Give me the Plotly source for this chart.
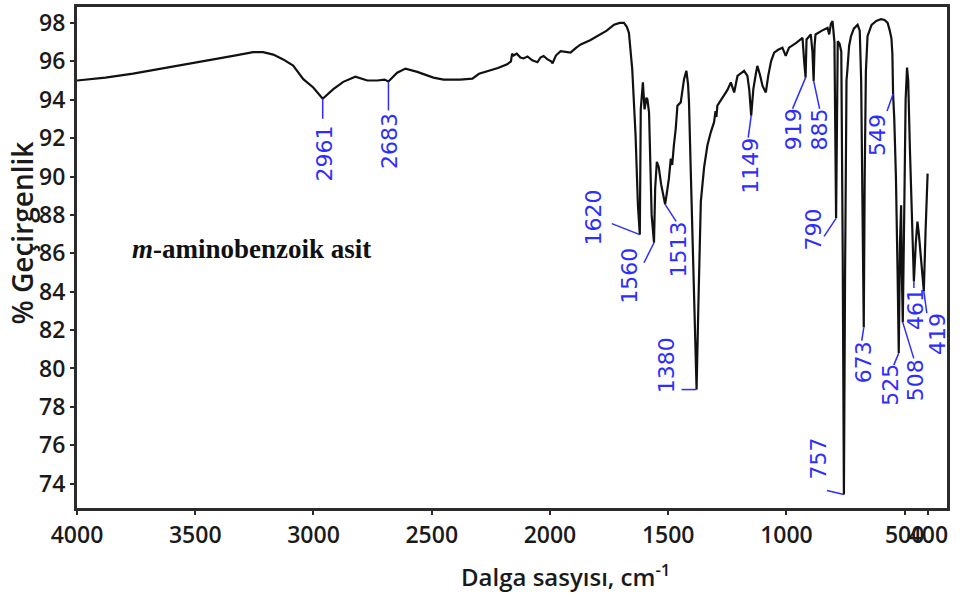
import numpy as np
import plotly.graph_objects as go

# ---------------- data ----------------
wavenumber = [
    4000, 3880, 3763, 3650, 3551, 3440, 3340, 3255, 3213, 3170, 3128, 3086, 3043, 3001,
    2961, 2916, 2874, 2823, 2772, 2730, 2700, 2683, 2665, 2646, 2611, 2561, 2493, 2450,
    2380, 2328, 2300, 2260, 2220, 2181, 2165, 2160, 2154, 2140, 2125, 2112, 2095, 2075,
    2053, 2040, 2027, 2010, 1995, 1989, 1975, 1955, 1930, 1913, 1890, 1870, 1830, 1786,
    1760, 1729, 1705, 1687, 1675, 1666, 1652, 1638, 1628, 1620, 1616, 1607, 1600, 1592,
    1588, 1581, 1570, 1560, 1555, 1548, 1540, 1530, 1520, 1513, 1505, 1497, 1489, 1483,
    1476, 1468, 1461, 1447, 1433, 1423, 1416, 1412, 1405, 1398, 1390, 1380, 1372, 1362,
    1348, 1334, 1320, 1306, 1300, 1296, 1292, 1264, 1250, 1235, 1221, 1207, 1190, 1179,
    1165, 1157, 1149, 1140, 1130, 1123, 1112, 1101, 1087, 1082, 1077, 1065, 1052, 1035,
    1017, 1003, 989, 960, 932, 925, 919, 915, 897, 890, 885, 881, 877, 850, 826, 819,
    812, 805, 797, 790, 786, 783, 775, 768, 762, 757, 752, 746, 742, 735, 727, 715,
    699, 690, 684, 678, 673, 669, 664, 657, 640, 620, 600, 585, 572, 563, 556, 552,
    549, 544, 537, 530, 525, 520, 515, 512, 508, 502, 496, 490, 485, 478, 470, 461,
    453, 446, 440, 430, 419, 412, 403,
]
transmittance = [
    95.0, 95.15, 95.36, 95.6, 95.84, 96.05, 96.28, 96.48, 96.48, 96.35, 96.1, 95.78, 95.07, 94.64,
    94.05, 94.55, 94.93, 95.2, 95.0, 95.0, 95.05, 94.95, 95.2, 95.41, 95.62, 95.45, 95.15, 95.05,
    95.05, 95.1, 95.35, 95.5, 95.65, 95.84, 96.0, 96.4, 96.3, 96.4, 96.2, 96.15, 96.25, 96.05,
    95.95, 96.2, 96.28, 96.1, 96.0, 95.9, 96.3, 96.53, 96.5, 96.45, 96.7, 96.88, 97.1, 97.4,
    97.6, 97.91, 98.0, 98.0, 97.8, 97.48, 95.58, 92.15, 88.5, 86.97, 93.5, 94.9, 93.5, 94.1,
    94.03, 93.34, 88.0, 86.55, 89.4, 90.76, 90.5, 89.6, 88.9, 88.55, 89.2, 89.9, 90.93, 90.6,
    91.62, 92.5, 93.69, 93.86, 95.07, 95.5, 94.8, 93.86, 90.5, 86.98, 83.0, 78.9, 83.5, 88.69,
    90.5, 91.63, 92.3, 92.83, 93.4, 93.1, 93.69, 94.2, 94.5, 94.9, 94.38, 95.24, 95.4, 95.5,
    95.24, 94.5, 93.17, 94.55, 95.3, 95.76, 95.3, 94.72, 94.38, 94.9, 95.24, 96.0, 96.45, 96.6,
    96.71, 96.28, 96.71, 96.95, 97.22, 96.0, 95.15, 97.14, 97.4, 96.5, 94.98, 96.8, 97.4, 97.6, 97.74, 97.4,
    97.95, 98.09, 97.0, 87.82, 96.0, 97.05, 96.9, 96.5, 86.0, 73.43, 85.0, 95.0, 95.58, 96.8, 97.31, 97.7,
    97.9, 97.6, 95.0, 88.0, 82.13, 90.0, 95.5, 97.31, 97.9, 98.1, 98.2, 98.15, 98.0, 97.6, 97.2, 96.4,
    94.3, 93.0, 90.0, 85.0, 80.8, 86.5, 88.5, 85.0, 82.4, 88.0, 94.0, 95.67, 95.0, 91.5, 87.5, 84.55,
    86.5, 87.65, 87.0, 85.5, 84.03, 87.0, 90.15,
]

peak_labels = ["2961", "2683", "1620", "1560", "1513", "1380", "1149", "919", "885",
               "790", "757", "673", "549", "525", "508", "461", "419"]
peak_wavenumbers = [2961, 2683, 1620, 1560, 1513, 1380, 1149, 919, 885,
                    790, 757, 673, 549, 525, 508, 461, 419]

x_tick_values = [4000, 3500, 3000, 2500, 2000, 1500, 1000, 500, 400]
y_tick_values = [74, 76, 78, 80, 82, 84, 86, 88, 90, 92, 94, 96, 98]

sample_name = "<b><i>m</i>-aminobenzoik asit</b>"
x_title = "Dalga sasyısı, cm<sup>-1</sup>"
y_title = "% Geçirgenlik"

# ---------------- layout / style ----------------
# per label: (leader end dx, leader end dy, text centre dx, text centre dy) in screen pixels
label_offsets = [
    (0, 20, 2, 55), (0, 29, 1, 59), (-28, -11, -46, -17), (-10, 20, -24, 33),
    (11, 17, 13, 45), (-15, 0, -30, -24), (-3, 22, -1, 50), (-13, 31, -12, 52),
    (6, 28, 6, 49), (-12, 18, -23, 11), (-17, -4, -25, -36), (-2, 13, 0, 35),
    (-6, 17, -15, 41), (-5, 12, -9, 32), (11, 36, 13, 58), (0, 7, 1, 28),
    (3, 22, 13, 43),
]
BLUE = "#2d2dff"
AXIS = "#2b2b2b"
TEXT = "#1a1a1a"

wn_arr = np.array(wavenumber, dtype=float)
t_arr = np.array(transmittance, dtype=float)
peak_t = np.interp(peak_wavenumbers, wn_arr[::-1], t_arr[::-1])

fig = go.Figure()
fig.add_trace(go.Scatter(
    x=wavenumber, y=transmittance, mode="lines",
    line=dict(color="#111111", width=2.2), showlegend=False, hoverinfo="skip",
))

shapes = []
annotations = []
for lab, wn, t, (ldx, ldy, tdx, tdy) in zip(peak_labels, peak_wavenumbers, peak_t, label_offsets):
    shapes.append(dict(
        type="line", xref="x", yref="y", xsizemode="pixel", ysizemode="pixel",
        xanchor=wn, yanchor=float(t), x0=0, y0=0, x1=ldx, y1=-ldy,
        line=dict(color=BLUE, width=1.5),
    ))
    annotations.append(dict(
        x=wn, y=float(t), xref="x", yref="y", text=lab, showarrow=False,
        textangle=-90, xshift=tdx, yshift=-tdy, xanchor="center", yanchor="middle",
        font=dict(family="DejaVu Sans", size=22, color=BLUE),
    ))

annotations.append(dict(
    x=3261, y=86.2, xref="x", yref="y", text=sample_name, showarrow=False,
    xanchor="center", yanchor="middle",
    font=dict(family="Liberation Serif", size=27, color="#111111"),
))
annotations.append(dict(
    x=0.562, y=-0.135, xref="paper", yref="paper", text=x_title, showarrow=False,
    xanchor="center", yanchor="middle",
    font=dict(family="Open Sans", size=24, color=TEXT, weight=600),
))
annotations.append(dict(
    x=-0.0632, y=0.548, xref="paper", yref="paper", text=y_title, showarrow=False,
    xanchor="center", yanchor="middle", textangle=-90,
    font=dict(family="Open Sans", size=28, color=TEXT, weight=600),
))

tick_font = dict(family="Open Sans", size=23, color=TEXT, weight=600)

fig.update_layout(
    width=960, height=595,
    margin=dict(l=77, r=13, t=4, b=87),
    paper_bgcolor="white", plot_bgcolor="white",
    shapes=shapes, annotations=annotations,
    showlegend=False,
    xaxis=dict(
        range=[4000, 321], tickvals=x_tick_values, ticktext=[str(v) for v in x_tick_values],
        tickangle=0,
        showgrid=False, zeroline=False, showline=True, linecolor=AXIS, linewidth=3,
        mirror=True, ticks="outside", ticklen=4, tickwidth=1.5, tickcolor=AXIS,
        tickfont=tick_font,
    ),
    yaxis=dict(
        range=[72.73, 98.83], tickvals=y_tick_values,
        showgrid=False, zeroline=False, showline=True, linecolor=AXIS, linewidth=3,
        mirror=True, ticks="outside", ticklen=4, tickwidth=1.5, tickcolor=AXIS,
        tickfont=tick_font,
    ),
)

fig.write_html("out.html")
